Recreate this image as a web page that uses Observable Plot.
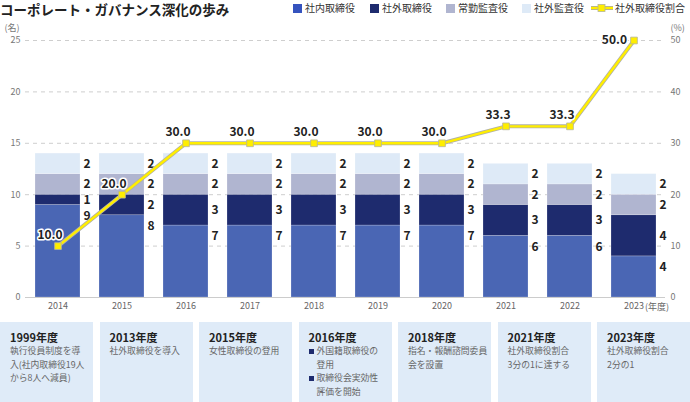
<!DOCTYPE html>
<html><head><meta charset="utf-8">
<script src="https://cdn.jsdelivr.net/npm/d3@7"></script>
<script src="https://cdn.jsdelivr.net/npm/@observablehq/plot@0.6"></script>
<style>
body{margin:0;width:690px;height:402px;position:relative;overflow:hidden;font-family:"Noto Sans CJK JP","Noto Sans",sans-serif;background:#fff;}
.abs{position:absolute;white-space:nowrap;}
#title{left:0;top:1px;font-size:13.5px;font-weight:bold;color:#222;line-height:16px;}
.lg{font-size:10px;color:#333;line-height:16px;top:0;}
.sq{position:absolute;width:9px;height:9px;top:4px;}
#chart{position:absolute;left:0;top:16px;}
.box{position:absolute;top:322px;width:93px;height:80px;background:#dfebf8;overflow:hidden;}
.box .hd{position:absolute;left:10px;top:7px;font-size:11px;font-weight:bold;color:#222;line-height:16px;}
.box .bd{position:absolute;left:10px;top:22px;font-size:8.8px;color:#666;line-height:13.5px;white-space:nowrap;}
.bl{position:relative;padding-left:8px;}
.bl:before{content:"";position:absolute;left:0;top:4.5px;width:5px;height:5px;background:#1e2b6e;}
</style></head>
<body>
<div id="title" class="abs">コーポレート・ガバナンス深化の歩み</div>
<div id="legend"></div>
<div id="chart"></div>
<div id="boxes"></div>
<script>
const years = ["2014","2015","2016","2017","2018","2019","2020","2021","2022","2023"];
const insideDirectors = [9,8,7,7,7,7,7,6,6,4];
const outsideDirectors = [1,2,3,3,3,3,3,3,3,4];
const fullTimeAuditors = [2,2,2,2,2,2,2,2,2,2];
const outsideAuditors = [2,2,2,2,2,2,2,2,2,2];
const outsideRatio = [10.0,20.0,30.0,30.0,30.0,30.0,30.0,33.3,33.3,50.0];
const categories = ["社内取締役","社外取締役","常勤監査役","社外監査役"];
const lineName = "社外取締役割合";
const colors = ["#4a66b4","#1e2b6e","#b0b5d0","#deeaf7"];
const legendColors = ["#3553be","#1e2b6e","#b0b5d0","#deeaf7"];
const yTicks = [0,5,10,15,20,25];
const milestones = [
  {year:"1999年度", lines:["執行役員制度を導","入(社内取締役19人","から8人へ減員)"]},
  {year:"2013年度", lines:["社外取締役を導入"]},
  {year:"2015年度", lines:["女性取締役の登用"]},
  {year:"2016年度", bullets:[["外国籍取締役の","登用"],["取締役会実効性","評価を開始"]]},
  {year:"2018年度", lines:["指名・報酬諮問委員","会を設置"]},
  {year:"2021年度", lines:["社外取締役割合","3分の1に達する"]},
  {year:"2023年度", lines:["社外取締役割合","2分の1"]}
];

// legend
const lg = document.getElementById("legend");
const lgX = [293,370,446,522];
categories.forEach((c,i)=>{
  const sq = document.createElement("div"); sq.className="sq"; sq.style.left=lgX[i]+"px"; sq.style.background=legendColors[i];
  lg.appendChild(sq);
  const t = document.createElement("div"); t.className="abs lg"; t.style.left=(lgX[i]+12)+"px"; t.textContent=c;
  lg.appendChild(t);
});
lg.insertAdjacentHTML("beforeend",
  `<svg class="abs" style="left:590px;top:2px" width="24" height="12"><line x1="1" y1="6" x2="23" y2="6" stroke="#aaa" stroke-width="4"/><line x1="1" y1="6" x2="23" y2="6" stroke="#ffee00" stroke-width="2.4"/><rect x="8" y="2.5" width="7" height="7" fill="#ffee00" stroke="#b5b59a" stroke-width="0.8"/></svg><div class="abs lg" style="left:615px">${lineName}</div>`);

// data
const series = [insideDirectors, outsideDirectors, fullTimeAuditors, outsideAuditors];
const long = [];
const labels = [];
years.forEach((y,i)=>{
  let acc = 0;
  series.forEach((arr,k)=>{
    const v = arr[i];
    long.push({year:y, cat:categories[k], value:v});
    labels.push({year:y, k, value:v, y1:acc, y2:acc+v});
    acc += v;
  });
});
const ratioData = years.map((y,i)=>({year:y, ratio:outsideRatio[i]}));

const font = '"Noto Sans CJK JP","Noto Sans",sans-serif';
const chart = Plot.plot({
  width: 690, height: 306,
  marginTop: 24, marginBottom: 25, marginLeft: 25, marginRight: 25,
  style: {fontFamily: font, background: "transparent", overflow: "visible"},
  x: {domain: years, paddingInner: 0.3, paddingOuter: 0.135, axis: null},
  y: {domain: [0,25], axis: null},
  color: {domain: categories, range: colors},
  marks: [
    Plot.gridY(yTicks.filter(d=>d>0), {stroke:"#c8c8c8", strokeOpacity:1, strokeDasharray:"4,4", strokeWidth:0.9}),
    Plot.barY(long, {x:"year", y:"value", fill:"cat", stroke:"#ffffff", strokeOpacity:0.35, strokeWidth:0.6}),
    Plot.ruleY([0], {stroke:"#cccccc", strokeWidth:1.2}),
    Plot.axisY({ticks: yTicks, anchor:"left", tickSize:0, tickPadding:5, fontSize:9, fill:"#777", label:null}),
    Plot.axisY({ticks: yTicks, anchor:"right", tickSize:0, tickPadding:5, fontSize:9, fill:"#777", label:null, tickFormat: d=>String(d*2)}),
    Plot.axisX({tickSize:0, tickPadding:5, fontSize:9, fill:"#666", label:null}),
    Plot.text(["(年度)"], {x: ()=>"2023", y: ()=>0, dx: 11, dy: 9.5, textAnchor:"start", fontSize:9, fill:"#666"}),
    Plot.text(["(名)"], {frameAnchor:"top-left", dx:-21, dy:-16, textAnchor:"start", fontSize:9, fill:"#777"}),
    Plot.text(["(%)"], {frameAnchor:"top-right", dx:5, dy:-16, textAnchor:"start", fontSize:9, fill:"#777"}),
    Plot.text(labels.filter(d=>d.k===0), {x:"year", y:"y2", text:d=>String(d.value), dx:29, dy:11, fontSize:12, fontWeight:"bold", fill:"#222"}),
    Plot.text(labels.filter(d=>d.k>0), {x:"year", y:d=>(d.y1+d.y2)/2, text:d=>String(d.value), dx:29, fontSize:12, fontWeight:"bold", fill:"#222"}),
    Plot.line(ratioData, {x:"year", y:d=>d.ratio/2, stroke:"#b0b0a8", strokeWidth:4}),
    Plot.line(ratioData, {x:"year", y:d=>d.ratio/2, stroke:"#ffee00", strokeWidth:2.4}),
    Plot.dot(ratioData, {x:"year", y:d=>d.ratio/2, symbol:"square", r:3.8, fill:"#ffee00", stroke:"#b5b59a", strokeWidth:0.8}),
    Plot.text(ratioData.filter(d=>d.year!=="2023"), {x:"year", y:d=>d.ratio/2, text:d=>d.ratio.toFixed(1), dx:-8, dy:-11, fontSize:12, fontWeight:"bold", fill:"#222", stroke:"white", strokeWidth:3, paintOrder:"stroke"}),
    Plot.text(ratioData.filter(d=>d.year==="2023"), {x:"year", y:d=>d.ratio/2, text:d=>d.ratio.toFixed(1), dx:-7, textAnchor:"end", fontSize:12, fontWeight:"bold", fill:"#222", stroke:"white", strokeWidth:3, paintOrder:"stroke"})
  ]
});
document.getElementById("chart").appendChild(chart);

// milestone boxes
const bx = document.getElementById("boxes");
milestones.forEach((m,i)=>{
  const b = document.createElement("div"); b.className="box"; b.style.left=(i*99.5)+"px";
  let body;
  if (m.bullets) body = m.bullets.map(bl=>`<div class="bl">${bl.join("<br>")}</div>`).join("");
  else body = m.lines.join("<br>");
  b.innerHTML = `<div class="hd">${m.year}</div><div class="bd">${body}</div>`;
  bx.appendChild(b);
});
</script>
</body></html>
